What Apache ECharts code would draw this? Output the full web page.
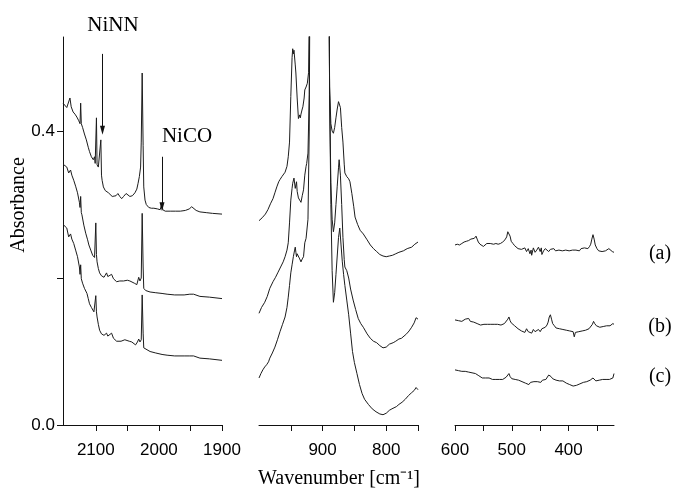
<!DOCTYPE html>
<html>
<head>
<meta charset="utf-8">
<script src="https://cdn.jsdelivr.net/npm/echarts@6/dist/echarts.min.js"></script>
<style>
  html, body { margin: 0; padding: 0; background: #fff; }
  #chart { width: 677px; height: 488px; }
</style>
</head>
<body>
<div id="chart"></div>
<script>
// IR absorbance spectra (a)-(c), split wavenumber axis: 2150-1900, 1000-750, 600-320 cm-1

const leftA = [[2152,0.438],[2149,0.436],[2146,0.432],[2143,0.430],[2141,0.445],[2139,0.433],[2136,0.426],[2133,0.423],[2130,0.419],[2127,0.414],[2125,0.410],[2124,0.438],[2123,0.410],[2121,0.405],[2118,0.396],[2115,0.388],[2112,0.378],[2110,0.372],[2107,0.365],[2104,0.361],[2102,0.365],[2101,0.356],[2099,0.418],[2098,0.354],[2096,0.351],[2094,0.352],[2092,0.388],[2091,0.340],[2090,0.333],[2088,0.324],[2085,0.319],[2083,0.317],[2080,0.316],[2077,0.315],[2074,0.311],[2071,0.310],[2068,0.312],[2065,0.315],[2062,0.311],[2059,0.308],[2056,0.311],[2052,0.315],[2049,0.313],[2046,0.311],[2042,0.312],[2038,0.316],[2035,0.321],[2033,0.329],[2031,0.338],[2029,0.351],[2028,0.385],[2026.5,0.479],[2025,0.380],[2024,0.324],[2022,0.306],[2020,0.300],[2016,0.296],[2012,0.295],[2008,0.295],[2005,0.297],[2002,0.294],[1998,0.293],[1996,0.294],[1995,0.302],[1994,0.293],[1990,0.291],[1982,0.291],[1974,0.291],[1966,0.291],[1958,0.292],[1952,0.294],[1948,0.297],[1945,0.296],[1941,0.292],[1935,0.290],[1925,0.289],[1915,0.288],[1900,0.287]];
const leftB = [[2152,0.355],[2149,0.353],[2146,0.351],[2143,0.343],[2140,0.347],[2138,0.340],[2135,0.333],[2132,0.325],[2129,0.316],[2126,0.303],[2125,0.296],[2124,0.311],[2123,0.289],[2122,0.286],[2119,0.272],[2116,0.261],[2113,0.252],[2111,0.245],[2108,0.238],[2105,0.231],[2102,0.228],[2101,0.226],[2100,0.275],[2099,0.232],[2098,0.222],[2096,0.213],[2094,0.207],[2091,0.203],[2087,0.201],[2085,0.204],[2083,0.207],[2081,0.202],[2078,0.200],[2075,0.205],[2072,0.199],[2067,0.195],[2062,0.196],[2056,0.196],[2050,0.197],[2046,0.196],[2043,0.195],[2039,0.193],[2035,0.191],[2032,0.201],[2030,0.196],[2028,0.200],[2026.5,0.288],[2025,0.215],[2024,0.186],[2021,0.183],[2014,0.181],[2005,0.180],[1995,0.179],[1987,0.178],[1975,0.177],[1960,0.177],[1951,0.178],[1948,0.180],[1945,0.178],[1935,0.175],[1920,0.174],[1900,0.172]];
const leftC = [[2152,0.273],[2149,0.271],[2146,0.268],[2143,0.256],[2140,0.260],[2138,0.253],[2135,0.247],[2132,0.238],[2129,0.229],[2126,0.215],[2125,0.205],[2124,0.218],[2123,0.199],[2121,0.193],[2118,0.186],[2114,0.179],[2112,0.172],[2110,0.165],[2107,0.160],[2103,0.154],[2101,0.152],[2100,0.176],[2099,0.154],[2098,0.147],[2096,0.137],[2094,0.129],[2091,0.124],[2087,0.122],[2085,0.123],[2083,0.125],[2081,0.121],[2078,0.120],[2075,0.125],[2072,0.118],[2067,0.114],[2060,0.114],[2054,0.116],[2051,0.115],[2047,0.114],[2043,0.113],[2040,0.111],[2037,0.109],[2034,0.113],[2032,0.117],[2030,0.113],[2028,0.116],[2026.5,0.177],[2025,0.125],[2024,0.105],[2021,0.103],[2014,0.100],[2005,0.098],[1995,0.096],[1987,0.095],[1975,0.094],[1960,0.094],[1951,0.094],[1948,0.096],[1945,0.094],[1935,0.091],[1920,0.090],[1900,0.088]];

const midA = [[1000,0.278],[995,0.282],[990,0.287],[986,0.293],[982,0.301],[978,0.308],[975,0.316],[972,0.324],[969,0.331],[967,0.334],[964,0.338],[962,0.339],[959,0.344],[956,0.352],[954,0.365],[952,0.385],[950,0.447],[948,0.500],[947,0.512],[946,0.505],[945,0.510],[943,0.490],[942,0.479],[940,0.445],[938,0.417],[936,0.422],[935,0.418],[934,0.423],[932,0.430],[931,0.433],[929,0.445],[928,0.456],[926,0.460],[924,0.465],[922,0.480],[921,0.560],[919,0.800],[905,1.000],[891,0.800],[889,0.460],[887,0.410],[885,0.400],[883,0.397],[881,0.405],[879,0.418],[877,0.430],[875,0.440],[874,0.442],[872,0.432],[870,0.405],[868,0.385],[866,0.355],[865,0.343],[862,0.338],[859,0.335],[857,0.331],[854,0.315],[851,0.297],[849,0.283],[845,0.273],[841,0.265],[836,0.260],[830,0.252],[825,0.245],[820,0.240],[815,0.236],[810,0.232],[805,0.230],[800,0.229],[795,0.230],[790,0.231],[785,0.233],[780,0.235],[773,0.237],[767,0.240],[760,0.242],[755,0.246],[750,0.249]];
const midB = [[1000,0.152],[996,0.160],[991,0.167],[987,0.175],[983,0.186],[978,0.195],[974,0.201],[970,0.208],[966,0.215],[962,0.222],[959,0.229],[956,0.238],[954,0.248],[952,0.275],[950,0.306],[948,0.322],[947,0.329],[945,0.336],[944,0.334],[943,0.322],[942,0.320],[941,0.331],[940,0.318],[938,0.309],[936,0.306],[934,0.303],[932,0.312],[930,0.320],[928,0.340],[926,0.352],[925,0.356],[923,0.370],[921,0.450],[919,0.800],[905,1.000],[891,0.800],[889,0.450],[887,0.330],[885,0.280],[883,0.263],[881,0.275],[879,0.300],[877,0.325],[875,0.350],[874,0.361],[872,0.340],[870,0.300],[868,0.255],[866,0.225],[865,0.215],[862,0.210],[859,0.200],[856,0.185],[852,0.170],[848,0.157],[844,0.145],[840,0.138],[836,0.133],[830,0.124],[825,0.118],[820,0.114],[815,0.112],[810,0.108],[805,0.105],[800,0.106],[795,0.110],[792,0.108],[789,0.112],[785,0.114],[780,0.117],[776,0.118],[773,0.120],[768,0.124],[764,0.128],[760,0.133],[756,0.139],[753,0.146],[751,0.148],[750,0.144]];
const midC = [[1000,0.064],[997,0.070],[994,0.075],[991,0.079],[988,0.082],[985,0.086],[983,0.091],[979,0.098],[975,0.106],[971,0.116],[967,0.127],[963,0.137],[959,0.147],[956,0.160],[954,0.174],[952,0.190],[950,0.207],[948,0.218],[946,0.229],[944,0.238],[943,0.242],[942,0.235],[941,0.229],[940,0.233],[938,0.234],[936,0.226],[934,0.222],[932,0.226],[930,0.229],[928,0.248],[926,0.254],[925,0.256],[923,0.280],[921,0.400],[919,0.800],[905,1.000],[891,0.800],[889,0.450],[887,0.300],[885,0.210],[883,0.167],[881,0.180],[879,0.205],[877,0.230],[875,0.255],[873,0.268],[871,0.245],[869,0.222],[867,0.205],[865,0.190],[862,0.170],[859,0.150],[856,0.125],[853,0.100],[850,0.085],[846,0.070],[842,0.055],[838,0.043],[834,0.035],[828,0.028],[822,0.022],[816,0.018],[810,0.015],[805,0.014],[800,0.016],[795,0.020],[791,0.022],[788,0.023],[784,0.025],[780,0.028],[775,0.031],[770,0.035],[765,0.040],[760,0.044],[756,0.047],[753,0.051],[751,0.052],[750,0.048]];

const rightA = [[600,0.245],[596,0.246],[592,0.245],[588,0.247],[584,0.249],[580,0.250],[576,0.251],[572,0.253],[569,0.253],[566,0.254],[563,0.257],[561,0.253],[559,0.249],[556,0.246],[553,0.244],[550,0.243],[547,0.245],[544,0.247],[541,0.246],[538,0.247],[535,0.246],[532,0.246],[528,0.247],[524,0.246],[520,0.247],[516,0.249],[512,0.252],[509,0.256],[507,0.263],[505,0.261],[503,0.257],[501,0.250],[498,0.247],[495,0.244],[492,0.243],[489,0.240],[486,0.242],[483,0.239],[480,0.237],[477,0.241],[474,0.236],[471,0.240],[468,0.233],[466,0.238],[465,0.231],[462,0.241],[459,0.235],[456,0.238],[453,0.242],[450,0.236],[448,0.241],[447,0.232],[444,0.237],[441,0.240],[438,0.238],[435,0.236],[432,0.239],[429,0.238],[426,0.240],[423,0.237],[420,0.239],[417,0.238],[414,0.240],[411,0.237],[408,0.239],[405,0.238],[402,0.240],[399,0.237],[396,0.239],[393,0.238],[390,0.240],[387,0.238],[384,0.239],[381,0.237],[378,0.240],[375,0.238],[372,0.241],[369,0.239],[366,0.240],[363,0.243],[361,0.246],[359,0.253],[357,0.259],[355,0.253],[353,0.245],[350,0.240],[347,0.237],[344,0.238],[341,0.236],[338,0.238],[335,0.237],[332,0.239],[329,0.240],[326,0.238],[323,0.236],[320,0.235]];
const rightB = [[600,0.143],[597,0.144],[594,0.142],[591,0.143],[588,0.141],[585,0.143],[582,0.144],[579,0.142],[576,0.145],[573,0.141],[570,0.143],[567,0.140],[564,0.139],[561,0.138],[558,0.137],[555,0.136],[552,0.138],[549,0.137],[546,0.136],[543,0.137],[540,0.138],[537,0.137],[534,0.138],[531,0.137],[528,0.136],[525,0.137],[522,0.136],[519,0.136],[516,0.137],[513,0.138],[510,0.140],[507,0.144],[505,0.147],[503,0.142],[501,0.139],[498,0.137],[495,0.135],[492,0.134],[489,0.131],[486,0.133],[483,0.128],[480,0.130],[477,0.126],[474,0.131],[471,0.127],[468,0.129],[465,0.125],[462,0.130],[459,0.127],[456,0.128],[453,0.130],[450,0.127],[447,0.131],[444,0.129],[441,0.133],[438,0.136],[436,0.140],[434,0.147],[432,0.150],[430,0.144],[428,0.138],[425,0.135],[422,0.132],[419,0.134],[416,0.131],[413,0.132],[410,0.130],[407,0.131],[404,0.129],[401,0.131],[398,0.128],[395,0.130],[392,0.127],[390,0.120],[388,0.126],[385,0.128],[382,0.127],[379,0.129],[376,0.128],[373,0.130],[370,0.129],[367,0.130],[364,0.131],[361,0.133],[358,0.137],[356,0.141],[354,0.138],[351,0.135],[348,0.134],[345,0.133],[342,0.135],[339,0.134],[336,0.136],[333,0.135],[330,0.136],[327,0.135],[324,0.137],[322,0.138],[320,0.137]];
const rightC = [[600,0.075],[597,0.076],[594,0.074],[591,0.075],[588,0.073],[585,0.074],[582,0.073],[579,0.074],[576,0.072],[573,0.072],[570,0.071],[567,0.071],[564,0.070],[561,0.069],[558,0.067],[555,0.065],[552,0.064],[549,0.065],[546,0.064],[543,0.063],[540,0.064],[537,0.063],[534,0.062],[531,0.063],[528,0.062],[525,0.061],[522,0.062],[519,0.061],[516,0.062],[513,0.063],[510,0.065],[507,0.067],[505,0.070],[503,0.066],[500,0.063],[497,0.063],[494,0.062],[491,0.061],[488,0.061],[485,0.060],[482,0.059],[479,0.061],[476,0.057],[473,0.059],[470,0.055],[467,0.058],[464,0.056],[461,0.059],[458,0.057],[455,0.059],[452,0.060],[449,0.058],[446,0.061],[443,0.060],[440,0.062],[437,0.064],[435,0.068],[433,0.070],[431,0.066],[428,0.063],[425,0.062],[422,0.061],[419,0.062],[416,0.060],[413,0.061],[410,0.060],[407,0.058],[404,0.057],[401,0.056],[398,0.055],[395,0.054],[392,0.053],[389,0.055],[386,0.054],[383,0.056],[380,0.056],[377,0.057],[374,0.058],[371,0.058],[368,0.059],[365,0.060],[362,0.061],[359,0.063],[357,0.064],[355,0.062],[352,0.060],[349,0.060],[346,0.061],[343,0.060],[340,0.062],[337,0.061],[334,0.062],[331,0.061],[328,0.062],[325,0.063],[322,0.064],[320,0.070]];

// axis ranges and tick/label positions of the three wavenumber segments
const xRanges = [[1900, 2152], [750, 1000], [320, 600]];
const xTickValues = [[2100, 2050, 2000, 1950, 1900], [950, 900, 850, 800, 750], [600, 550, 500, 450, 400, 350]];
const xLabelValues = [[2100, 2000, 1900], [900, 800], [600, 500, 400]];
const yTickValues = [0, 0.2, 0.4];
const yLabelValues = [0, 0.4];

// band markers: [label, wavenumber, arrow top, arrow tip]
const bandMarks = [['NiNN', 2089.4, 0.505, 0.401], ['NiCO', 1995.1, 0.365, 0.297]];
const traceNames = ['(a)', '(b)', '(c)'];

const SANS = "'Liberation Sans', Arial, sans-serif";
const SERIF = "'Liberation Serif', 'Times New Roman', serif";
const INK = '#111';

const gridLefts = [63, 259, 455];
const grids = gridLefts.map(l => ({ left: l, top: 37, width: 159, height: 388 }));

const xAxes = xRanges.map((r, i) => ({
  type: 'value', gridIndex: i, inverse: true, min: r[0], max: r[1],
  axisLine: { show: true, onZero: false, lineStyle: { color: INK, width: 1 } },
  axisTick: { show: true, inside: false, length: 6, customValues: xTickValues[i], lineStyle: { color: INK } },
  axisLabel: { customValues: xLabelValues[i], color: '#000', fontFamily: SANS, fontSize: 17, margin: 17,
               formatter: v => String(Math.round(v)) },
  splitLine: { show: false }
}));

const yAxes = [0, 1, 2].map(i => ({
  type: 'value', gridIndex: i, min: 0, max: 0.528, show: i === 0,
  axisLine: { show: true, lineStyle: { color: INK, width: 1 } },
  axisTick: { show: true, inside: false, length: 6, customValues: yTickValues, lineStyle: { color: INK } },
  axisLabel: { customValues: yLabelValues, color: '#000', fontFamily: SANS, fontSize: 17, margin: 8,
               formatter: v => v.toFixed(1) },
  splitLine: { show: false }
}));

function trace(data, idx) {
  return {
    type: 'line', data, xAxisIndex: idx, yAxisIndex: idx,
    showSymbol: false, symbol: 'none', clip: true, silent: true, animation: false,
    lineStyle: { color: '#1c1c1c', width: 1 }
  };
}

const series = [
  trace(leftA, 0), trace(leftB, 0), trace(leftC, 0),
  trace(midA, 1), trace(midB, 1), trace(midC, 1),
  trace(rightA, 2), trace(rightB, 2), trace(rightC, 2)
];

// arrows marking the NiNN and NiCO bands on trace (a)
series[0].markLine = {
  silent: true, animation: false,
  symbol: ['none', 'triangle'], symbolSize: [5, 9],
  label: { show: false },
  lineStyle: { color: INK, width: 1, type: 'solid' },
  data: bandMarks.map(m => [{ coord: [m[1], m[2]] }, { coord: [m[1], m[3]] }])
};

const chart = echarts.init(document.getElementById('chart'), null, { renderer: 'canvas' });
chart.setOption({
  backgroundColor: '#fff',
  animation: false,
  grid: grids,
  xAxis: xAxes,
  yAxis: yAxes,
  series,
  graphic: [
    { type: 'text', x: 113, y: 25, style: { text: bandMarks[0][0], font: "21px " + SERIF, fill: '#000', align: 'center', verticalAlign: 'middle' } },
    { type: 'text', x: 187, y: 136, style: { text: bandMarks[1][0], font: "21px " + SERIF, fill: '#000', align: 'center', verticalAlign: 'middle' } },
    { type: 'text', x: 19, y: 205, rotation: Math.PI / 2, style: { text: 'Absorbance', font: "20px " + SERIF, fill: '#000', align: 'center', verticalAlign: 'middle' } },
    { type: 'text', x: 339, y: 479, style: { text: 'Wavenumber [cm⁻¹]', font: "20px " + SERIF, fill: '#000', align: 'center', verticalAlign: 'middle' } },
    { type: 'text', x: 660, y: 254, style: { text: traceNames[0], font: "20px " + SERIF, fill: '#000', align: 'center', verticalAlign: 'middle' } },
    { type: 'text', x: 660, y: 327, style: { text: traceNames[1], font: "20px " + SERIF, fill: '#000', align: 'center', verticalAlign: 'middle' } },
    { type: 'text', x: 660, y: 377, style: { text: traceNames[2], font: "20px " + SERIF, fill: '#000', align: 'center', verticalAlign: 'middle' } }
  ]
});
</script>
</body>
</html>
